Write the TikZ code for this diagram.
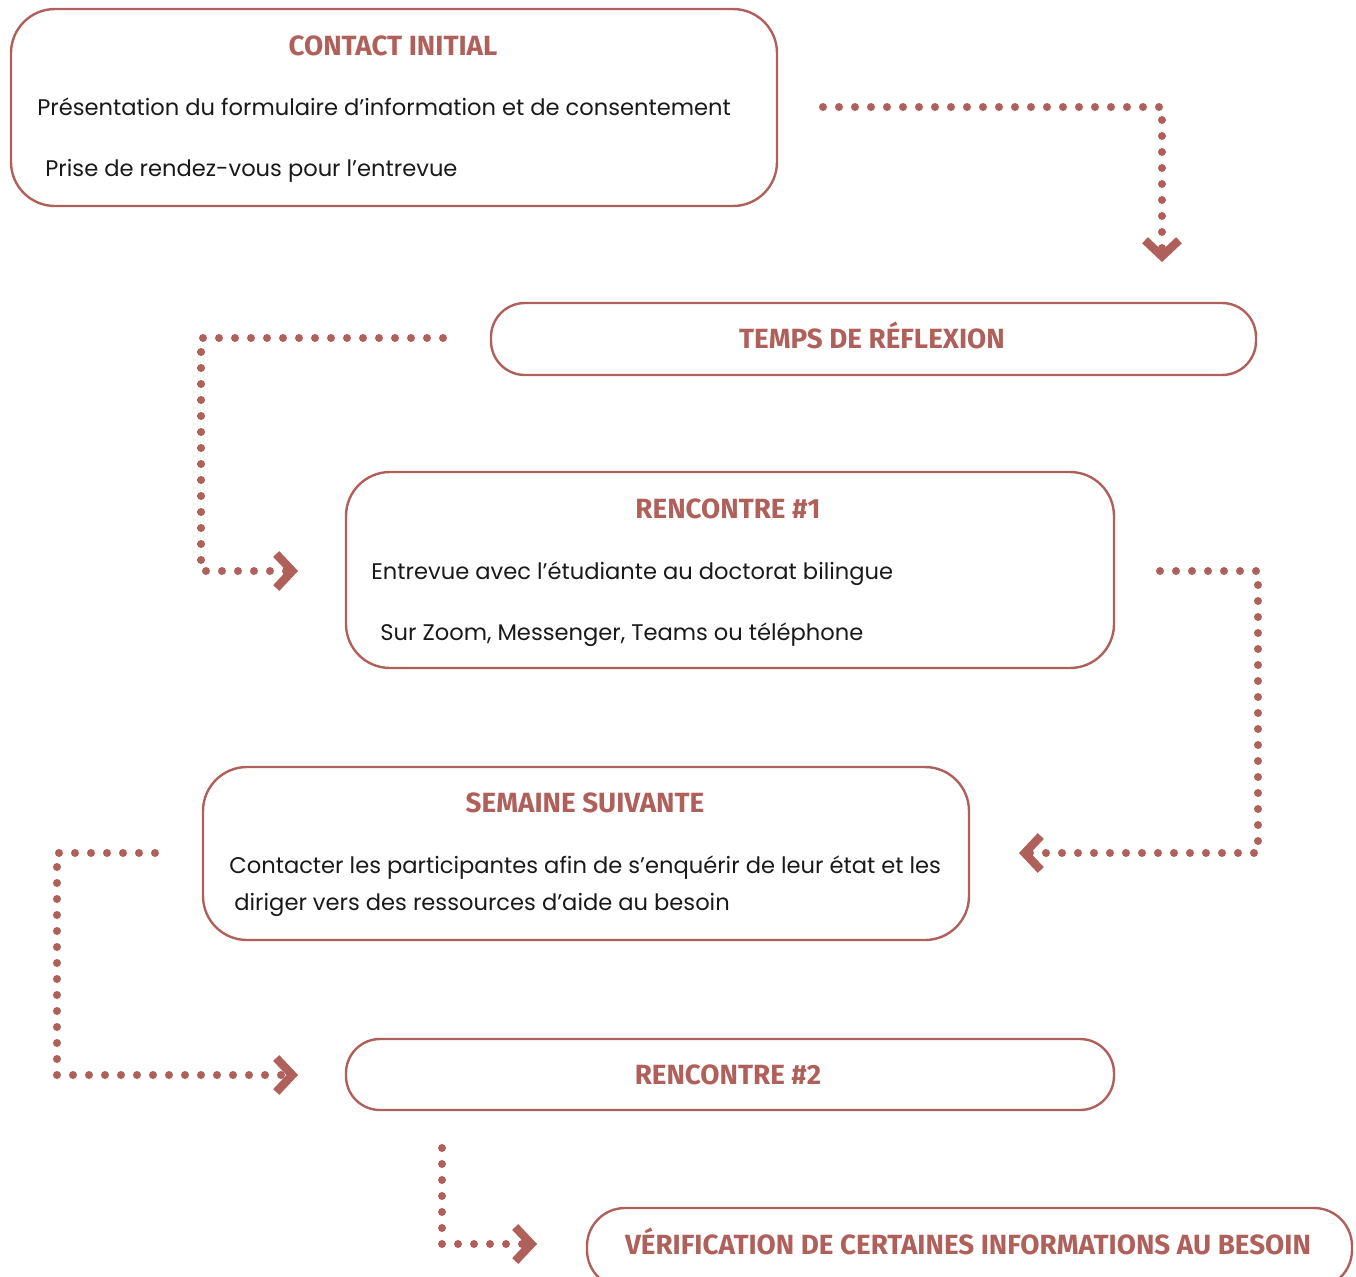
\documentclass[tikz,border=0pt]{standalone}
\usepackage{fontspec}
\setmainfont{Poppins}
\newfontfamily\headfont{Fira Sans}
\usetikzlibrary{arrows.meta}
\definecolor{brick}{RGB}{176,96,90}
\tikzset{
  box/.style={draw=brick, line width=1.2pt, rounded corners=22pt, inner sep=0pt},
  head/.style={text=brick, font=\headfont\bfseries\fontsize{13.9}{16}\selectfont, inner sep=0pt, anchor=base},
  body/.style={font=\fontsize{11.3}{14}\selectfont, anchor=mid west, inner sep=0pt, text=black!90},
  flow/.style={draw=brick, line width=4pt, line cap=round, dash pattern=on 0pt off 8pt,
    -{Straight Barb[length=8pt,width=17pt,line width=4.2pt]}}
}
\begin{document}
\begin{tikzpicture}[x=0.5pt,y=-0.5pt]
\useasboundingbox (0,0) rectangle (1356,1276);
% boxes
\node[box, minimum width=383pt, minimum height=98.5pt] (b1) at (394,107.5) {};
\node[box, minimum width=382.5pt, minimum height=36pt, rounded corners=17pt] (b2) at (873.5,339) {};
\node[box, minimum width=384pt, minimum height=98pt] (b3) at (730,570) {};
\node[box, minimum width=383pt, minimum height=86.5pt] (b4) at (586,853.5) {};
\node[box, minimum width=384pt, minimum height=35.5pt, rounded corners=17pt] (b5) at (730,1074.5) {};
\node[box, minimum width=382.5pt, minimum height=40pt, rounded corners=19pt] (b6) at (969.5,1248) {};
% texts
\node[head] (h1) at (393,55.5) {CONTACT INITIAL};
\node[body] (t1a) at (37,110) {Présentation du formulaire d’information et de consentement};
\node[body] (t1b) at (45,171) {Prise de rendez-vous pour l’entrevue};
\node[head] (h2) at (872,348.5) {TEMPS DE RÉFLEXION};
\node[head] (h3) at (728,518.5) {RENCONTRE \#1};
\node[body] (t3a) at (371,574) {Entrevue avec l’étudiante au doctorat bilingue};
\node[body] (t3b) at (380,635) {Sur Zoom, Messenger, Teams ou téléphone};
\node[head] (h4) at (585,812.5) {SEMAINE SUIVANTE};
\node[body] (t4a) at (229,868) {Contacter les participantes afin de s’enquérir de leur état et les};
\node[body] (t4b) at (234,905) {diriger vers des ressources d’aide au besoin};
\node[head] (h5) at (728,1084.5) {RENCONTRE \#2};
\node[head] (h6) at (968,1254.5) {VÉRIFICATION DE CERTAINES INFORMATIONS AU BESOIN};
% connector ends
\coordinate (a0) at (823,107);
\coordinate (a1) at (1162,262);
\coordinate (c0) at (443,338);
\coordinate (c1) at (298,571);
\coordinate (d0) at (1160,571);
\coordinate (d1) at (1019,853);
\coordinate (e0) at (155,853);
\coordinate (e1) at (298,1075);
\coordinate (f0) at (442,1148);
\coordinate (f1) at (537,1244);
% connectors
\draw[flow] (a0) -| (a1);
\draw[flow] (c0) -| (201,571) -- (c1);
\draw[flow] (d0) -| (1258,853) -- (d1);
\draw[flow] (e0) -| (57,1075) -- (e1);
\draw[flow] (f0) |- (f1);
\end{tikzpicture}
\end{document}
